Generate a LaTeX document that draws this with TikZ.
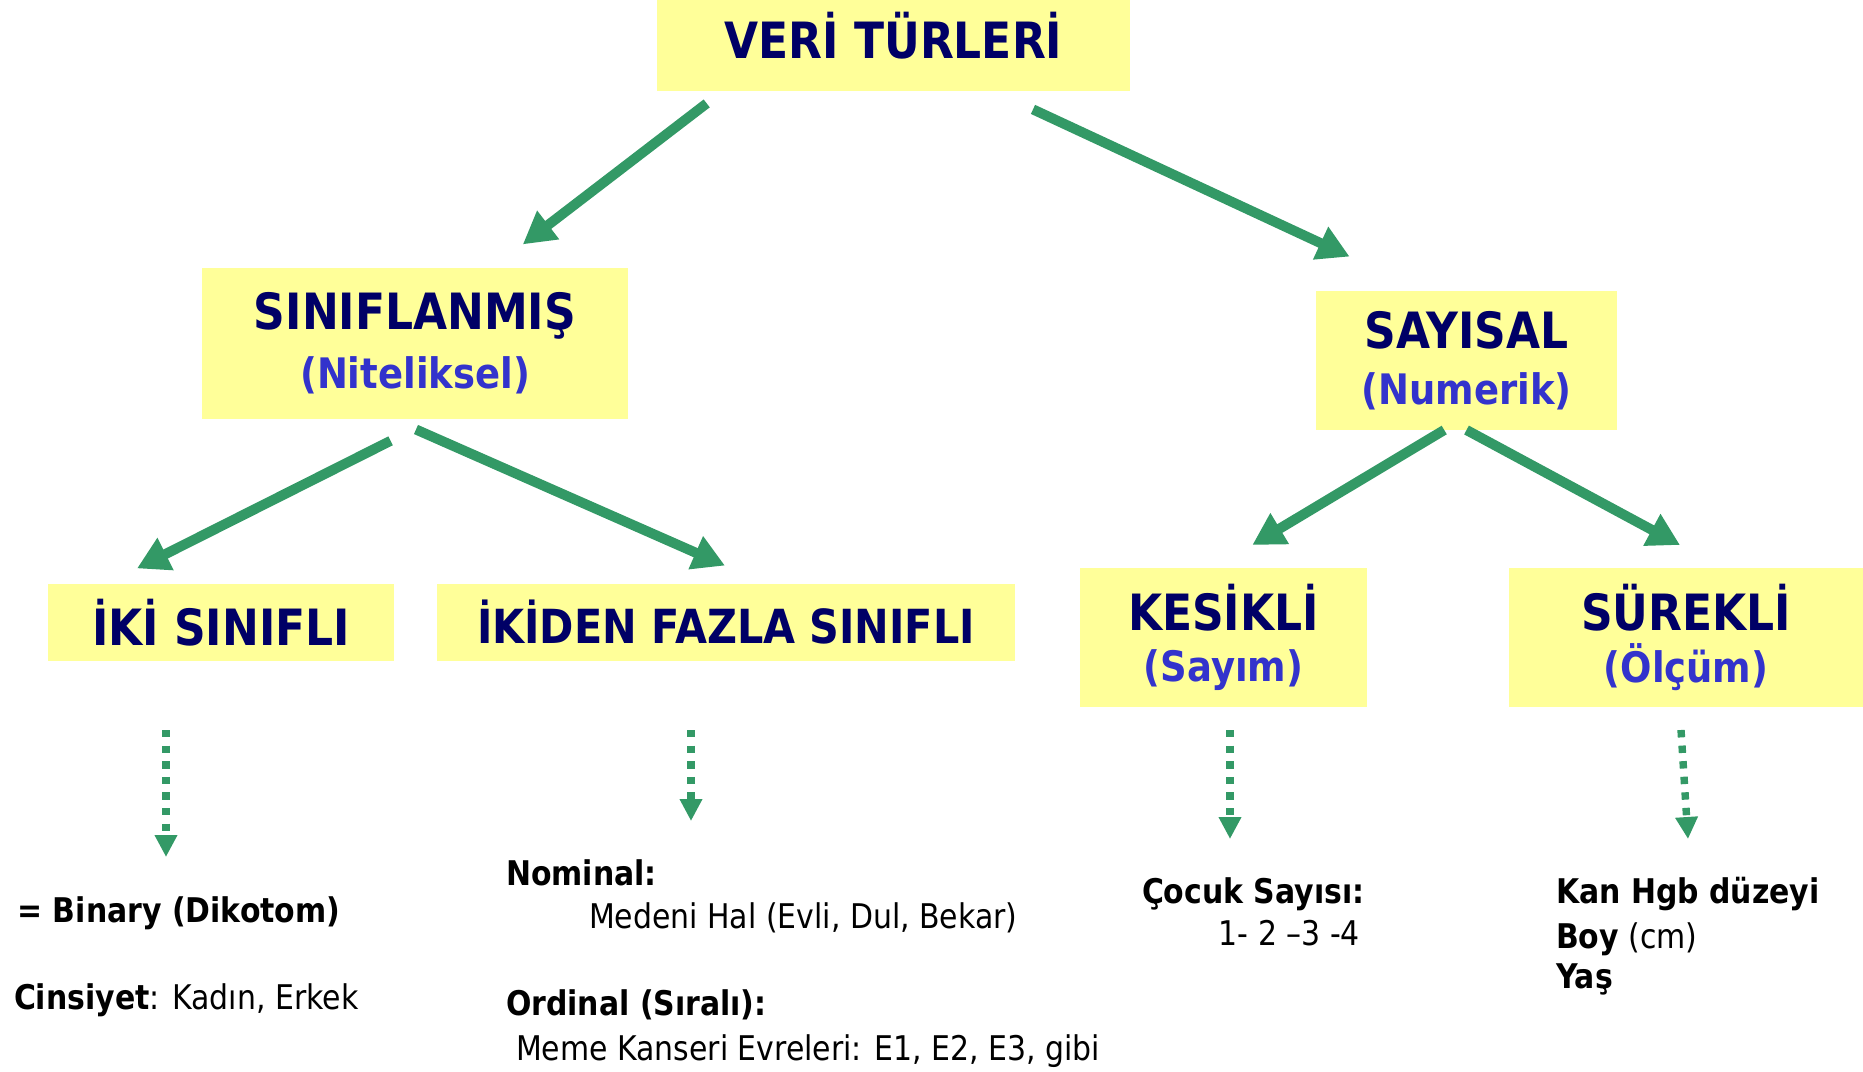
\documentclass[tikz,border=0pt]{standalone}
\usepackage{fontspec}
\setmainfont{DejaVu Sans}[FakeStretch=0.88]
\usepackage{tikz}
\usetikzlibrary{positioning}
\usetikzlibrary{arrows.meta}
\definecolor{boxyellow}{HTML}{FFFF99}
\definecolor{titlenavy}{HTML}{000066}
\definecolor{subblue}{HTML}{3333CC}
\definecolor{arrowgreen}{HTML}{339966}
\tikzset{>={Triangle[length=16pt,width=17pt]}}
\newcommand{\subtxt}[1]{{\fontsize{21}{25}\selectfont\color{subblue}#1}}

\begin{document}
\begin{tikzpicture}[box/.style={rectangle, fill=boxyellow, text=titlenavy, font=\fontsize{25}{28}\selectfont\bfseries, align=center, inner sep=0pt, outer sep=0pt}, textnode/.style={inner sep=0pt, outer sep=0pt, font=\fontsize{17}{21}\selectfont, anchor=base west}, bigarrow/.style={->, draw=arrowgreen, line width=5pt}, dotarrow/.style={-{Triangle[length=11pt,width=10.7pt]}, draw=arrowgreen, line width=3.7pt, dash pattern=on 3.7pt off 4.1pt}]
    
    \useasboundingbox (0,0) rectangle (931.5pt,-535.5pt);
    
    %Nodes
    \node[box, minimum width=236.5pt, minimum height=45.5pt, text depth=10pt](root) at (446.75pt,-22.75pt){VERİ TÜRLERİ};
    \node[box, minimum width=213pt, minimum height=75.5pt](siniflanmis)[below=88.5pt of root, xshift=-239.25pt]{SINIFLANMIŞ\\[1.5pt]\subtxt{(Niteliksel)}};
    \node[box, minimum width=150.5pt, minimum height=69.5pt](sayisal)[below=100pt of root, xshift=286.5pt]{SAYISAL\\\subtxt{(Numerik)}};
    \node[box, minimum width=173pt, minimum height=38.5pt](iki)[below=82.5pt of siniflanmis, xshift=-97pt]{İKİ SINIFLI};
    \node[box, minimum width=289pt, minimum height=38.5pt, font=\fontsize{23.5}{28}\selectfont\bfseries](ikiden)[below=82.5pt of siniflanmis, xshift=155.5pt]{İKİDEN FAZLA SINIFLI};
    \node[box, minimum width=143.5pt, minimum height=69.5pt](kesikli)[below=69pt of sayisal, xshift=-121.5pt]{KESİKLİ\\[-2.3pt]\subtxt{(Sayım)}};
    \node[box, minimum width=177pt, minimum height=69.5pt](surekli)[below=69pt of sayisal, xshift=109.75pt]{SÜREKLİ\\[-2.3pt]\subtxt{(Ölçüm)}};
    
    \node[textnode](binary) at (8.75pt,-461pt){\textbf{= Binary (Dikotom)}};
    \node[textnode](cinsiyet) at (7pt,-504.5pt){\textbf{Cinsiyet}: Kadın, Erkek};
    \node[textnode](nominal) at (253pt,-442.5pt){\textbf{Nominal:}};
    \node[textnode](medeni) at (294.5pt,-464pt){Medeni Hal (Evli, Dul, Bekar)};
    \node[textnode](ordinal) at (253pt,-507.5pt){\textbf{Ordinal (Sıralı):}};
    \node[textnode](meme) at (258pt,-530pt){Meme Kanseri Evreleri: E1, E2, E3, gibi};
    \node[textnode](cocuk) at (571pt,-451.5pt){\textbf{Çocuk Sayısı:}};
    \node[textnode, anchor=base east](sayilar) at (680pt,-472.5pt){1- 2 –3 -4};
    \node[textnode](kan) at (778pt,-451.5pt){\textbf{Kan Hgb düzeyi}};
    \node[textnode](boy) at (778pt,-474pt){\textbf{Boy} (cm)};
    \node[textnode](yas) at (778pt,-494pt){\textbf{Yaş}};
    
    \coordinate[below=34.5pt of iki.south, xshift=-27.5pt](ikitop);
    \coordinate[below=63.5pt of ikitop](ikiend);
    \coordinate[below=34.5pt of ikiden.south, xshift=-17.5pt](ikidentop);
    \coordinate[below=45.5pt of ikidentop](ikidenend);
    \coordinate[below=11.5pt of kesikli.south, xshift=3.25pt](kesiklitop);
    \coordinate[below=54.5pt of kesiklitop](kesikliend);
    \coordinate[below=11.5pt of surekli.south, xshift=-2.5pt](sureklitop);
    \coordinate[below=54.5pt of sureklitop, xshift=3.5pt](surekliend);
    
    %Lines
    \draw[bigarrow] ([xshift=-93.4pt,yshift=-6.2pt]root.south) -- ([xshift=53.9pt,yshift=11.8pt]siniflanmis.north);
    \draw[bigarrow] ([xshift=69.75pt,yshift=-9.2pt]root.south) -- ([xshift=-58.45pt,yshift=17.2pt]sayisal.north);
    \draw[bigarrow] ([xshift=-12.2pt,yshift=-10.9pt]siniflanmis.south) -- ([xshift=-42pt,yshift=7.8pt]iki.north);
    \draw[bigarrow] ([xshift=0.5pt,yshift=-5.25pt]siniflanmis.south) -- ([xshift=-0.5pt,yshift=9.2pt]ikiden.north);
    \draw[bigarrow] ([xshift=-11.15pt]sayisal.south) -- ([xshift=14.4pt,yshift=11.5pt]kesikli.north);
    \draw[bigarrow] (sayisal.south) -- ([xshift=-3pt,yshift=11.5pt]surekli.north);
    \draw[dotarrow] (ikitop) -- (ikiend);
    \draw[dotarrow] (ikidentop) -- (ikidenend);
    \draw[dotarrow] (kesiklitop) -- (kesikliend);
    \draw[dotarrow] (sureklitop) -- (surekliend);
    
\end{tikzpicture}
\end{document}
